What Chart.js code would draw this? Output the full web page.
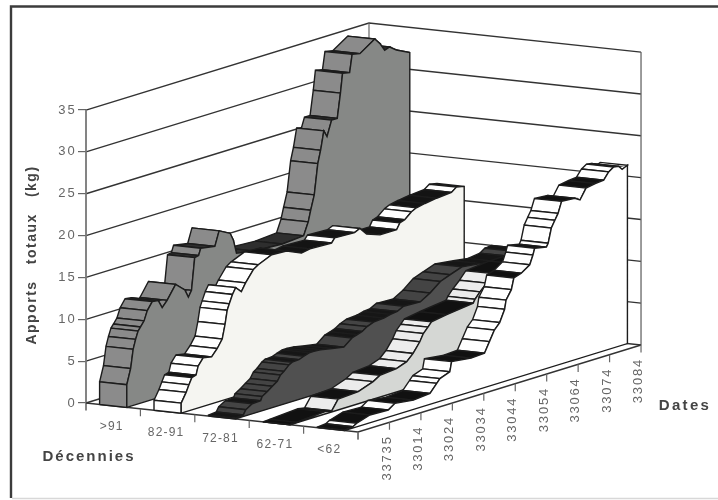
<!DOCTYPE html>
<html>
<head>
<meta charset="utf-8">
<title>Apports totaux</title>
<script src="https://cdn.jsdelivr.net/npm/chart.js@4/dist/chart.umd.js"></script>
<style>
  html, body { margin: 0; padding: 0; background: #fff; }
  #wrap { width: 718px; height: 500px; }
</style>
</head>
<body>
<div id="wrap"><canvas id="apports"></canvas></div>
<script>
// categories and axis labels
const decennies = ['>91', '82-91', '72-81', '62-71', '<62'];
const dateLabels = ['', '33735', '33014', '33024', '33034', '33044', '33054', '33064', '33074', '33084'];
const kgTicks = [0, 5, 10, 15, 20, 25, 30, 35];
const dateSpan = 80; // samples along the date axis

// cumulated kg per decade, at sample positions along the date axis
const samplesOver91 = [0, 1.1, 1.8, 2.5, 3.2, 3.9, 4.9, 5.8, 7.2, 8.9, 10, 11.4, 13.8, 16.4, 17.4, 18.3, 19.2, 20.3, 20.9, 24.9, 26.1, 29.2, 30.1, 31, 36, 44, 50, 51.3, 52, 53, 54, 54.8, 55.7, 56.6, 57.9, 59.5, 60.4, 61, 63, 63.7, 65.9, 70.1, 71.5, 72.9, 74.3, 76.2, 80];
const kgOver91 = [2.7, 4.5, 6.7, 7.8, 8.7, 9.1, 9.7, 10.8, 11.7, 11.6, 10.6, 11.3, 12.9, 11.9, 10.9, 11.6, 15.4, 15.5, 16.3, 16, 17.7, 17, 16.1, 14.4, 14, 13.8, 14, 15.5, 16.8, 18.5, 22.1, 23.6, 25.8, 25, 26.8, 26.8, 29.7, 32, 31.8, 33.9, 33.7, 34.9, 34.2, 33.2, 33.4, 32.8, 32];

const samples8291 = [0, 1.4, 2.2, 3, 4.2, 4.8, 6.2, 8.6, 10.2, 11.6, 12.4, 13, 13.6, 14.5, 15.4, 17, 18.2, 20.4, 21.8, 25.6, 29.8, 34, 36.4, 42.5, 43.4, 49, 50.5, 52.4, 56.2, 60.9, 61.8, 63.2, 65.1, 66.5, 68.9, 72.2, 76.4, 77.8, 80];
const kg8291 = [1.2, 2.3, 3.1, 3.85, 4, 5, 5.8, 5.6, 6.4, 7.35, 9, 10.6, 11.3, 12.3, 13, 12.3, 13.2, 14.5, 14.9, 15.6, 15.5, 14.7, 14.9, 14.8, 15.3, 15.2, 15.5, 14.6, 14, 14, 14.7, 14.9, 15.6, 15.9, 16.1, 16.3, 16.45, 16.9, 16.7];

const samples7281 = [0, 2.2, 2.9, 4.7, 7.1, 7.5, 9, 10.4, 11.8, 12.7, 13.7, 15.1, 16, 17.9, 19.3, 20.8, 22.1, 24, 27.3, 30.6, 32.9, 34.4, 35.8, 37.2, 39, 41.9, 43.8, 45.7, 47.5, 52.2, 55, 57.9, 60.7, 64, 69.2, 73.4, 76.7, 78.1, 80];
const kg7281 = [0.1, 0.2, 0.73, 1.2, 1.25, 1.7, 2.1, 2.55, 2.96, 3.6, 3.9, 4.5, 4.7, 4.75, 4.98, 5.2, 5.2, 5.15, 4.86, 4.6, 5.4, 5.6, 5.8, 6.2, 6.5, 6.6, 6.8, 6.9, 7.3, 7.2, 7.9, 8.9, 9.35, 9.85, 9.57, 9.3, 9.5, 9.9, 10];

const samples6271 = [0, 1.9, 9.9, 11.8, 13.6, 19.3, 23.5, 25.4, 30.1, 33, 34.8, 36.7, 37.7, 39, 40, 44.3, 51.8, 52.3, 53.7, 55.6, 57.4, 64, 80];
const kg6271 = [0, 0.05, 0.28, 0.14, 1.3, 1.45, 2.1, 2.6, 2.8, 3.25, 4, 5.15, 6, 6.6, 7.1, 7.4, 7.8, 8.2, 8.9, 9.7, 10.6, 10.9, 11];

const samplesUnder62 = [0, 2.4, 3.5, 7.2, 12.4, 14.3, 19.5, 24.2, 26.1, 27, 29.8, 30.3, 35.8, 39.6, 41, 42.4, 43.9, 45.3, 45.7, 47.2, 47.9, 50, 52.4, 53.3, 53.8, 57.1, 57.6, 58.5, 59.5, 60.4, 61.4, 65.1, 66.6, 68.3, 70.9, 73.3, 74.7, 76.1, 77.5, 78.5, 80];
const kgUnder62 = [0.05, 0.15, 0.42, 0.92, 0.84, 1.4, 1.1, 1.3, 2.25, 2.7, 3.15, 4.3, 4, 4.1, 5.3, 6.5, 7.2, 8.6, 9.65, 10.7, 12, 12.3, 13, 14.05, 14.8, 14.5, 14.9, 16.6, 17.4, 18.1, 19.4, 19.3, 18.9, 20.1, 20.3, 20.4, 21.2, 21.6, 21.5, 21, 21.3];

const ribbons = [
  { dec: 0, samples: samplesOver91, kg: kgOver91, face: '#8b8b8b', flat: '#2e2e2e', wall: '#868886' },
  { dec: 1, samples: samples8291, kg: kg8291, face: '#ffffff', flat: '#141414', wall: '#f5f5f1' },
  { dec: 2, samples: samples7281, kg: kg7281, face: '#444444', flat: '#161616', wall: '#505050' },
  { dec: 3, samples: samples6271, kg: kg6271, face: '#ececec', flat: '#111111', wall: '#d5d7d4' },
  { dec: 4, samples: samplesUnder62, kg: kgUnder62, face: '#ffffff', flat: '#111111', wall: '#ffffff' }
];

// oblique projection: going back along the dates lifts a point, going across the decades lowers it
const perDecadeX = 15.38;
const perDecadeY = -0.693;
const perSampleY = 0.1299;

function project(sample, dec, kg) {
  return { x: sample + dec * perDecadeX, y: kg + sample * perSampleY + dec * perDecadeY };
}

function line(points, color, width) {
  return { data: points, borderColor: color, borderWidth: width, fill: false };
}

function poly(points, fillColor) {
  return {
    data: points.concat([points[0]]),
    borderColor: '#1c1c1c',
    borderWidth: 1.4,
    backgroundColor: fillColor,
    fill: 'shape'
  };
}

const sets = [];
const topKg = kgTicks[kgTicks.length - 1];
const nDec = decennies.length;

// walls and floor
kgTicks.forEach(v => {
  sets.push(line([project(0, 0, v), project(dateSpan, 0, v), project(dateSpan, nDec, v)], '#333', 1.4));
});
sets.push(line([project(dateSpan, 0, 0), project(dateSpan, 0, topKg)], '#666', 1.2));
sets.push(line([project(dateSpan, nDec, 0), project(dateSpan, nDec, topKg)], '#666', 1.3));
sets.push(line([project(0, 0, -0.9), project(0, 0, topKg)], '#777', 1.8));
sets.push(line([project(0, 0, 0), project(0, nDec, 0), project(dateSpan, nDec, 0)], '#333', 1.5));

// axis tick marks
decennies.forEach((d, i) => {
  sets.push(line([project(0, i + 1, 0), project(0, i + 1, -0.9)], '#666', 1.2));
});
dateLabels.forEach((d, i) => {
  const s = i * dateSpan / (dateLabels.length - 1);
  sets.push(line([project(s, nDec, 0), project(s, nDec, -0.9)], '#666', 1.2));
});

// ribbons: left to right, each one drawn from the far end forward
ribbons.forEach(r => {
  const dl = r.dec + 0.25;
  const dr = r.dec + 0.75;
  const last = r.samples.length - 1;
  for (let k = last - 1; k >= 0; k--) {
    const rate = (r.kg[k + 1] - r.kg[k]) / (r.samples[k + 1] - r.samples[k]);
    sets.push(poly([
      project(r.samples[k], dl, r.kg[k]),
      project(r.samples[k], dr, r.kg[k]),
      project(r.samples[k + 1], dr, r.kg[k + 1]),
      project(r.samples[k + 1], dl, r.kg[k + 1])
    ], rate < 0.15 ? r.flat : r.face));
  }
  sets.push(poly([
    project(r.samples[0], dl, 0),
    project(r.samples[0], dr, 0),
    project(r.samples[0], dr, r.kg[0]),
    project(r.samples[0], dl, r.kg[0])
  ], r.face));
  const wall = [project(r.samples[0], dr, 0)];
  r.samples.forEach((s, k) => wall.push(project(s, dr, r.kg[k])));
  wall.push(project(r.samples[last], dr, 0));
  sets.push(poly(wall, r.wall));
});

const sansFont = '"Liberation Sans", Arial, sans-serif';

function spacedText(ctx, text, x, y, font, color, spacing, align, angle) {
  ctx.save();
  ctx.translate(x, y);
  ctx.rotate(angle || 0);
  ctx.font = font;
  ctx.fillStyle = color;
  ctx.letterSpacing = spacing + 'px';
  ctx.textAlign = align || 'center';
  ctx.textBaseline = 'middle';
  ctx.fillText(text, 0, 0);
  ctx.restore();
}

const cadrePlugin = {
  id: 'cadre',
  beforeDraw(chart) {
    const ctx = chart.ctx;
    ctx.letterSpacing = '2.2px'; // picked up by the y axis tick labels
    ctx.save();
    ctx.fillStyle = '#ffffff';
    ctx.fillRect(0, 0, chart.width, chart.height);
    ctx.strokeStyle = '#3c3c3c';
    ctx.lineWidth = 2.4;
    ctx.beginPath();
    ctx.moveTo(718, 6.5);
    ctx.lineTo(11, 6.5);
    ctx.lineTo(11, 498);
    ctx.stroke();
    ctx.strokeStyle = '#d8d8d8';
    ctx.lineWidth = 1.5;
    ctx.beginPath();
    ctx.moveTo(12, 498.5);
    ctx.lineTo(718, 498.5);
    ctx.stroke();
    ctx.restore();
  },
  afterDraw(chart) {
    const ctx = chart.ctx;
    const xs = chart.scales.x;
    const ys = chart.scales.y;
    decennies.forEach((d, i) => {
      const p = project(0, i + 0.5, 0);
      spacedText(ctx, d, xs.getPixelForValue(p.x) - 1.5, ys.getPixelForValue(p.y) + 21, '12px ' + sansFont, '#666', 1.2);
    });
    dateLabels.forEach((d, i) => {
      const p = project(i * dateSpan / (dateLabels.length - 1), nDec, 0);
      spacedText(ctx, d, xs.getPixelForValue(p.x) - 2.5, ys.getPixelForValue(p.y) + 13, '13px ' + sansFont, '#666', 1.8, 'right', -Math.PI / 2);
    });
    spacedText(ctx, 'Apports   totaux   (kg)', 32, 255, 'bold 14px ' + sansFont, '#444', 1.5, 'center', -Math.PI / 2);
    spacedText(ctx, 'Décennies', 89, 457, 'bold 15px ' + sansFont, '#444', 2);
    spacedText(ctx, 'Dates', 685, 406, 'bold 15px ' + sansFont, '#444', 2.3);
  }
};

new Chart(document.getElementById('apports'), {
  type: 'scatter',
  data: { datasets: sets.reverse() }, // first dataset ends up on top, so paint order is reversed
  options: {
    responsive: true,
    maintainAspectRatio: false,
    animation: false,
    events: [],
    layout: { padding: 0 },
    elements: { point: { radius: 0 }, line: { tension: 0 } },
    datasets: { scatter: { showLine: true, clip: false } },
    plugins: { legend: { display: false }, tooltip: { enabled: false } },
    scales: {
      x: { type: 'linear', display: false, min: 0, max: 178.66 },
      y: {
        type: 'linear',
        min: -11.59,
        max: 48.15,
        afterFit(scale) {
          scale.width = 86;
          scale.paddingTop = 0;
          scale.paddingBottom = 0;
        },
        afterBuildTicks(scale) { scale.ticks = kgTicks.map(v => ({ value: v })); },
        border: { display: false },
        grid: { drawOnChartArea: false, drawTicks: true, tickLength: 8, color: '#666', lineWidth: 1.2 },
        ticks: { padding: 1, color: '#666', font: { family: 'Liberation Sans', size: 13 } }
      }
    }
  },
  plugins: [cadrePlugin]
});
</script>
</body>
</html>
